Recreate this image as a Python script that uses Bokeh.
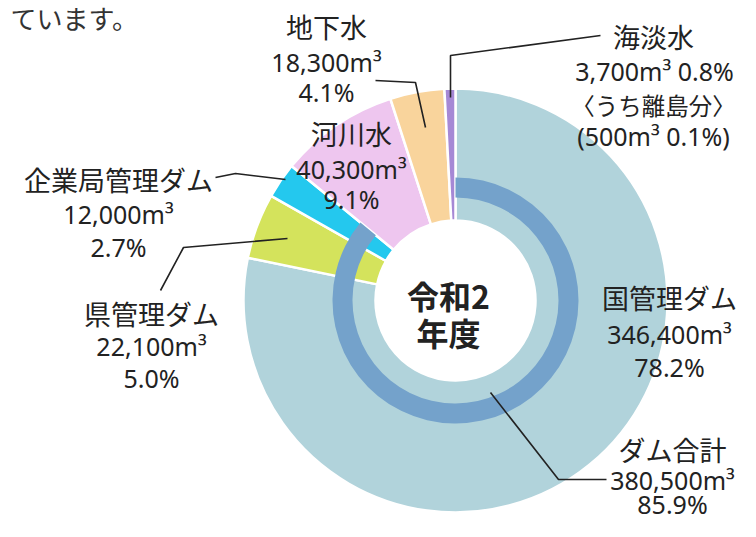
import math
from bokeh.plotting import figure
from bokeh.models import Range1d
from bokeh.embed import file_html
from bokeh.resources import INLINE
from bokeh.core.properties import value

# ---- data ----
categories = ["国管理ダム", "県管理ダム", "企業局管理ダム", "河川水", "地下水", "海淡水"]
volumes = [346400, 22100, 12000, 40300, 18300, 3700]
shares = [78.2, 5.0, 2.7, 9.1, 4.1, 0.8]
colors = ["#b1d3db", "#d4e35c", "#24c8ee", "#eec6ef", "#f9d49c", "#a688d5"]
dam_categories = ["国管理ダム", "県管理ダム", "企業局管理ダム"]
dam_total_label = "ダム合計"
dam_total_volume = 380500
dam_total_share = 85.9
island_label = "〈うち離島分〉"
island_volume = 500
island_share = 0.1
center_title = ["令和2", "年度"]
intro_text = "ています。"

# ---- layout (picture pixel coords; y measured from top) ----
W, H = 740, 521
def Y(y):
    return H - y

p = figure(width=W, height=H, output_backend="svg", toolbar_location=None,
           x_range=Range1d(0, W), y_range=Range1d(0, H),
           min_border=0, outline_line_color=None)
p.axis.visible = False
p.grid.visible = False
p.background_fill_color = "white"

cx, cy = 455, 300
r_in, r_out = 80, 212
ring_in, ring_out = 103, 123

total = sum(volumes)
starts, ends = [], []
acc = 0.0
for v in volumes:
    starts.append(math.pi / 2 - 2 * math.pi * acc / total)
    acc += v
    ends.append(math.pi / 2 - 2 * math.pi * acc / total)

p.annular_wedge(x=[cx] * len(volumes), y=[Y(cy)] * len(volumes),
                inner_radius=r_in, outer_radius=r_out,
                start_angle=starts, end_angle=ends, direction="clock",
                fill_color=colors, line_color="white", line_width=2.5)

dam_sum = sum(v for c, v in zip(categories, volumes) if c in dam_categories)
p.annular_wedge(x=[cx], y=[Y(cy)], inner_radius=ring_in, outer_radius=ring_out,
                start_angle=[math.pi / 2],
                end_angle=[math.pi / 2 - 2 * math.pi * dam_sum / total],
                direction="clock", fill_color="#74a2cb", line_color=None)

# ---- leader lines ----
leaders = [
    [(375, 80), (415, 82), (425, 127)],
    [(450, 97), (450, 55), (600, 35)],
    [(215, 177), (235, 173), (285, 179)],
    [(160, 290), (183, 247), (287, 238)],
    [(490, 392), (558, 479), (606, 479)],
]
p.multi_line(xs=[[pt[0] for pt in l] for l in leaders],
             ys=[[Y(pt[1]) for pt in l] for l in leaders],
             line_color="#222222", line_width=1.6)

JP = value("Noto Sans CJK JP")
NUM = value("Noto Sans")
def vol(v):
    return f"{v:,}m³"
def pct(s):
    return f"{s}%"

idx = {c: i for i, c in enumerate(categories)}
labels = []  # (x, y, text, size, font)
def block(name, x, ys):
    i = idx[name]
    labels.append((x, ys[0], name, "27px", JP))
    labels.append((x, ys[1], vol(volumes[i]), "25px", NUM))
    labels.append((x, ys[2], pct(shares[i]), "25px", NUM))

block("地下水", 326, (26, 61, 91))
block("河川水", 351, (133, 168, 198))
block("企業局管理ダム", 118, (179, 213, 246))
block("県管理ダム", 151, (313, 345, 377))
block("国管理ダム", 669, (297, 333, 366))

i = idx["海淡水"]
labels.append((653, 36, "海淡水", "27px", JP))
labels.append((654, 70, f"{vol(volumes[i])} {pct(shares[i])}", "25px", NUM))
labels.append((653, 104, island_label, "23.5px", JP))
labels.append((653, 135, f"({vol(island_volume)} {pct(island_share)})", "25px", NUM))

labels.append((672, 449, dam_total_label, "27px", JP))
labels.append((672, 479, vol(dam_total_volume), "25px", NUM))
labels.append((672, 503, pct(dam_total_share), "25px", NUM))

for x, y, t, s, f in labels:
    p.text(x=[x], y=[Y(y)], text=[t], text_font=f, text_font_size=s,
           text_align="center", text_baseline="middle", text_color="#222222")

p.text(x=[10], y=[Y(17)], text=[intro_text], text_font=JP, text_font_size="26px",
       text_align="left", text_baseline="middle", text_color="#333333")

p.text(x=[448, 448], y=[Y(294), Y(331)], text=center_title, text_font=JP,
       text_font_size="32px", text_font_style="bold",
       text_align="center", text_baseline="middle", text_color="#222222")

open("out.html", "w").write(file_html(p, INLINE))
